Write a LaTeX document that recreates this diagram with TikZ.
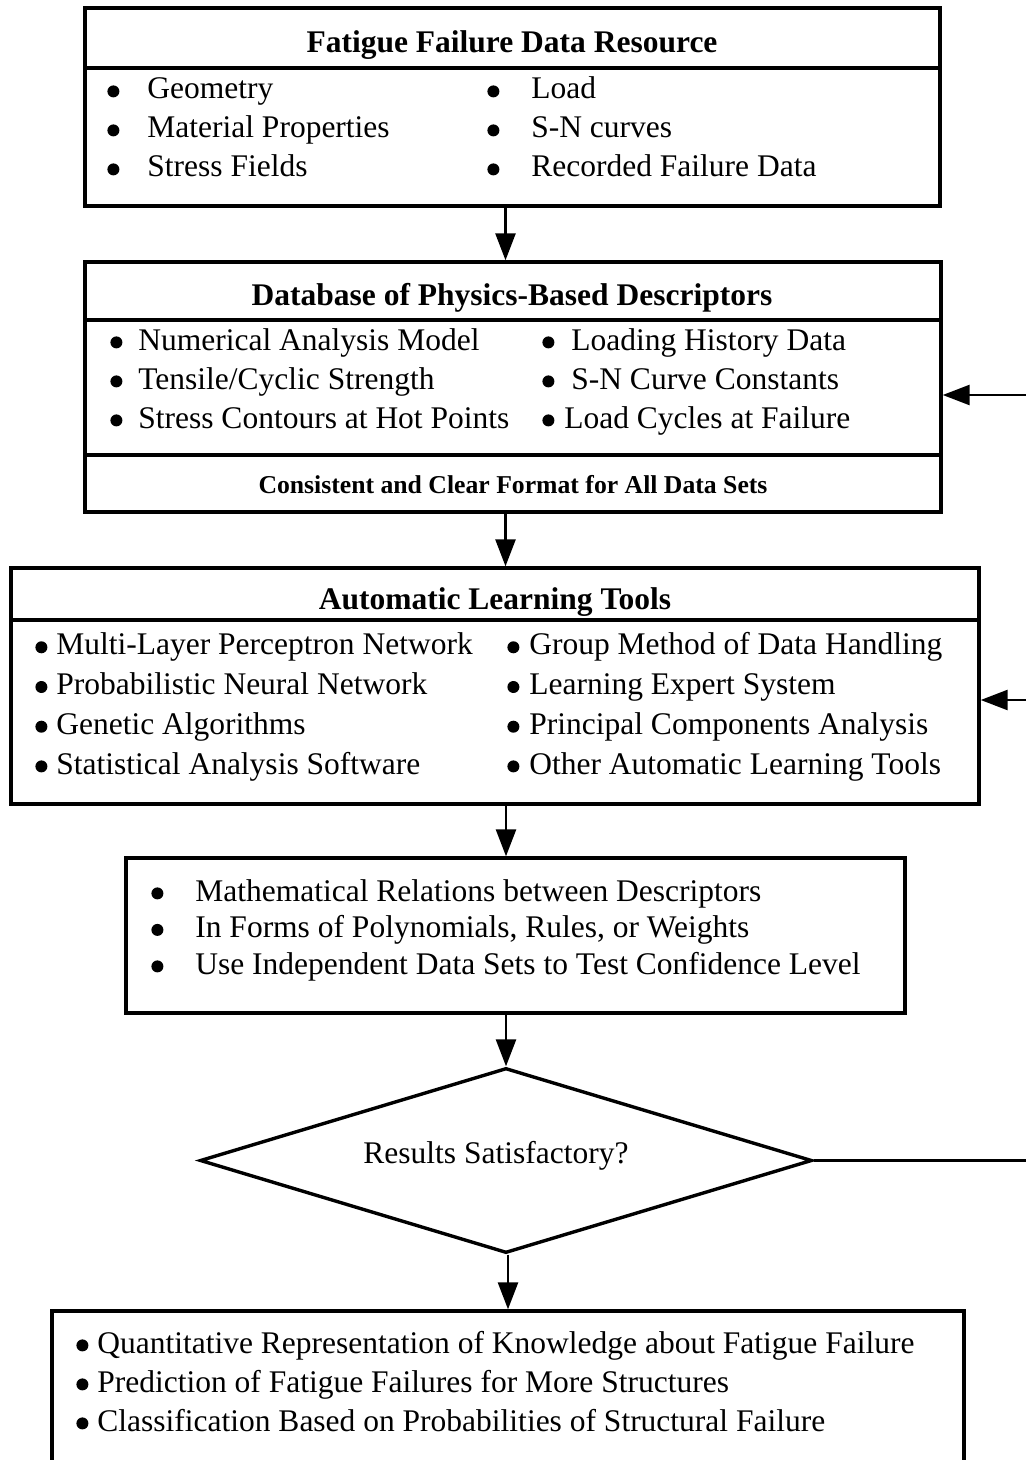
\documentclass[tikz,border=0pt]{standalone}
\usepackage{fontspec}
\setmainfont{Liberation Serif}
\usetikzlibrary{arrows.meta,shapes.geometric}
\newcommand\blt[1]{\makebox[#1][l]{\tikz[baseline=-3.8pt]\fill (3pt,0pt) circle[radius=3pt];}}
\begin{document}
\begin{tikzpicture}[x=0.5pt,y=-0.5pt,
  frame/.style={draw,line width=1.7pt,inner sep=0pt,rectangle},
  sep/.style={line width=1.6pt},
  arr/.style={line width=1.3pt,-{Triangle[length=13.5pt,width=10pt]}},
  col/.style={anchor=base west,inner sep=0pt,align=left,font=\fontsize{15.75}{19.5}\selectfont},
  ttl/.style={inner sep=0pt,font=\fontsize{15.75}{19}\selectfont\bfseries},
  foot/.style={inner sep=0pt,font=\fontsize{12.85}{15}\selectfont\bfseries},
]
\clip (0,0) rectangle (1026,1460);
\fill[white] (0,0) rectangle (1026,1460);

% Box 1
\node[frame,minimum width=427.5pt,minimum height=99pt] (b1) at (512.5,107) {};
\draw[sep] (b1.west |- 0,68) -- (b1.east |- 0,68);
\node[ttl] (t1) at (512,45) {Fatigue Failure Data Resource};
\node[col] (c1a) at (107,177) {\blt{20pt}Geometry\\\blt{20pt}Material Properties\\\blt{20pt}Stress Fields};
\node[col] (c1b) at (487,177) {\blt{22pt}Load\\\blt{22pt}S-N curves\\\blt{22pt}Recorded Failure Data};

% Box 2
\node[frame,minimum width=428pt,minimum height=125pt] (b2) at (513,387) {};
\draw[sep] (b2.west |- 0,320) -- (b2.east |- 0,320);
\draw[sep] (b2.west |- 0,455) -- (b2.east |- 0,455);
\node[ttl] (t2) at (512,298) {Database of Physics-Based Descriptors};
\node[col] (c2a) at (110,428) {\blt{14pt}Numerical Analysis Model\\\blt{14pt}Tensile/Cyclic Strength\\\blt{14pt}Stress Contours at Hot Points};
\node[col] (c2b) at (542,428) {\blt{14.5pt}Loading History Data\\\blt{14.5pt}S-N Curve Constants\\\blt{11pt}Load Cycles at Failure};
\node[foot] (f2) at (513,485) {Consistent and Clear Format for All Data Sets};

% Box 3
\node[frame,minimum width=484pt,minimum height=118pt] (b3) at (495,686) {};
\draw[sep] (b3.west |- 0,620) -- (b3.east |- 0,620);
\node[ttl] (t3) at (495,602) {Automatic Learning Tools};
\node[col,font=\fontsize{15.75}{19.85}\selectfont] (c3a) at (35,774) {\blt{10.5pt}Multi-Layer Perceptron Network\\\blt{10.5pt}Probabilistic Neural Network\\\blt{10.5pt}Genetic Algorithms\\\blt{10.5pt}Statistical Analysis Software};
\node[col,font=\fontsize{15.75}{19.85}\selectfont] (c3b) at (507,774) {\blt{11pt}Group Method of Data Handling\\\blt{11pt}Learning Expert System\\\blt{11pt}Principal Components Analysis\\\blt{11pt}Other Automatic Learning Tools};

% Box 4
\node[frame,minimum width=389.5pt,minimum height=77.5pt] (b4) at (515.5,935.5) {};
\node[col,font=\fontsize{15.75}{18.25}\selectfont] (c4) at (151,974) {\blt{22pt}Mathematical Relations between Descriptors\\\blt{22pt}In Forms of Polynomials, Rules, or Weights\\\blt{22pt}Use Independent Data Sets to Test Confidence Level};

% Decision
\node[draw,line width=1.7pt,diamond,aspect=3.31,minimum width=306pt,minimum height=92.5pt,inner sep=0pt] (dia) at (506,1160.5) {};
\node[inner sep=0pt,font=\fontsize{15.75}{19}\selectfont] (dt) at (496,1156) {Results Satisfactory?};

% Bottom box (open below)
\node[frame,minimum width=456pt,minimum height=100pt] (b6) at (508,1411) {};
\node[col] (c6) at (76,1431) {\blt{10.5pt}Quantitative Representation of Knowledge about Fatigue Failure\\\blt{10.5pt}Prediction of Fatigue Failures for More Structures\\\blt{10.5pt}Classification Based on Probabilities of Structural Failure};

% Connectors
\coordinate (spine) at (505.5,0);
\coordinate (spineb) at (506,0);
\coordinate (spinec) at (508,0);
\draw[arr] (b1.south -| spine) -- (b2.north -| spine);
\draw[arr] (b2.south -| spine) -- (b3.north -| spine);
\draw[arr] (b3.south -| spineb) -- (b4.north -| spineb);
\draw[arr] (b4.south -| spineb) -- (dia.north);
\draw[arr] (dia.south -| spinec) -- (b6.north -| spinec);

% Feedback lines
\coordinate (fb1) at (1030,395);
\coordinate (fb2) at (1030,700);
\coordinate (fb3) at (1030,1160.5);
\draw[arr] (fb1) -- (fb1 -| b2.east);
\draw[arr] (fb2) -- (fb2 -| b3.east);
\draw[line width=1.3pt] (dia.east) -- (fb3);
\end{tikzpicture}
\end{document}
